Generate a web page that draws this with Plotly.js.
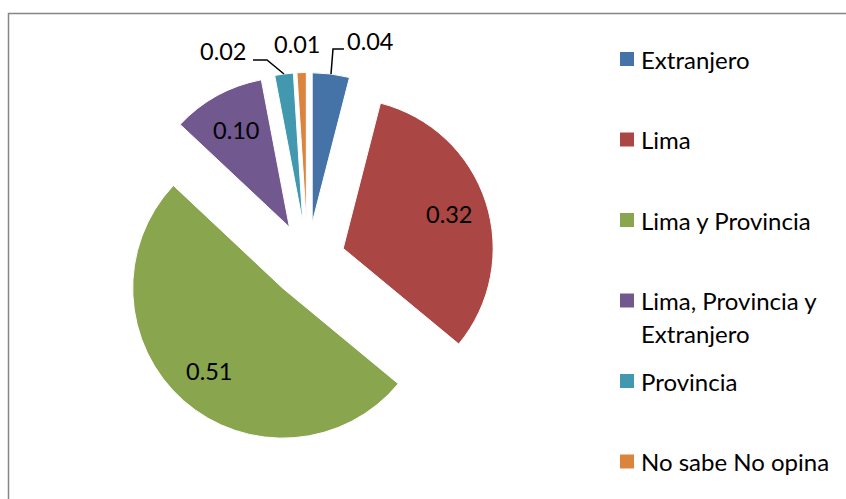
<!DOCTYPE html>
<html>
<head>
<meta charset="utf-8">
<script src="https://cdn.plot.ly/plotly-3.0.1.min.js"></script>
<style>
  html, body { margin: 0; padding: 0; background: #fff; }
  #chart { width: 846px; height: 499px; }
</style>
</head>
<body>
<div id="chart"></div>
<script>
// Ámbito de trabajo: share of answers per category
const categories = ['Extranjero', 'Lima', 'Lima y Provincia', 'Lima, Provincia y<br>Extranjero', 'Provincia', 'No sabe No opina'];
const shares = [0.04, 0.32, 0.51, 0.10, 0.02, 0.01];
const colors = ['#4572A7', '#AA4643', '#89A54E', '#71588F', '#4198AF', '#DB843D'];

const W = 846, H = 499;
const FONT = 'Lato, "Open Sans", sans-serif';
const PULL = 0.25;

// pie box in pixels
const box = { x0: 120, x1: 495, y0: 72.5, y1: 447.5 };
const dom = {
  x: [box.x0 / W, box.x1 / W],
  y: [1 - box.y1 / H, 1 - box.y0 / H]
};
const boxW = box.x1 - box.x0, boxH = box.y1 - box.y0;
const R = Math.min(boxW, boxH) / 2 / (1 + PULL);
const cx = (box.x0 + box.x1) / 2;
const cy = box.y1 - boxH / 2;

const px = v => v / W;
const py = v => 1 - v / H;

const total = shares.reduce((a, b) => a + b, 0);
const slices = [];
let acc = 0;
shares.forEach(v => {
  const mid = (acc + v / 2) / total * 2 * Math.PI;
  acc += v;
  const dx = Math.sin(mid), dy = -Math.cos(mid);
  const ax = cx + PULL * R * dx, ay = cy + PULL * R * dy;   // pulled apex
  slices.push({ v, dx, dy, ax, ay, ox: ax + R * dx, oy: ay + R * dy });
});

const annotations = [];
const shapes = [];

// value labels: large slices inside, small ones outside with leader lines
const outside = {
  0: { off: [39, -33], lead: [[2, -25], [13, -25]] },
  4: { off: [-61, -23], lead: [[-17, -14], [-31, -14]] },
  5: { off: [-5, -29], lead: null }
};
slices.forEach((s, i) => {
  const txt = s.v.toFixed(2);
  let x, y;
  if (outside[i]) {
    const o = outside[i];
    x = s.ox + o.off[0];
    y = s.oy + o.off[1];
    if (o.lead) {
      let path = `M ${px(s.ox)} ${py(s.oy)}`;
      o.lead.forEach(p => { path += ` L ${px(s.ox + p[0])} ${py(s.oy + p[1])}`; });
      shapes.push({ type: 'path', xref: 'paper', yref: 'paper', path,
        line: { color: '#000', width: 1.5 } });
    }
  } else {
    x = s.ax + 0.74 * R * s.dx;
    y = s.ay + 0.74 * R * s.dy;
  }
  annotations.push({ text: txt, x: px(x), y: py(y), xref: 'paper', yref: 'paper',
    xanchor: 'center', yanchor: 'middle', showarrow: false,
    font: { family: FONT, size: 23.5, color: '#000' } });
});

// legend
categories.forEach((c, i) => {
  const yc = 59 + 80.5 * i;
  shapes.push({ type: 'rect', xref: 'paper', yref: 'paper',
    x0: px(620), x1: px(634), y0: py(yc - 7), y1: py(yc + 7),
    fillcolor: colors[i], line: { width: 0 } });
  c.split('<br>').forEach((line, k) => {
    annotations.push({ text: line, x: px(639), y: py(yc + 33 * k), xref: 'paper', yref: 'paper',
      xanchor: 'left', yanchor: 'middle', showarrow: false,
      font: { family: FONT, size: 24, color: '#000' } });
  });
});

// chart frame
shapes.push({ type: 'rect', xref: 'paper', yref: 'paper',
  x0: px(8.5), x1: px(W + 5), y0: py(13.5), y1: py(H + 5),
  line: { color: '#868686', width: 1.5 }, layer: 'below' });

const trace = {
  type: 'pie',
  values: shares,
  labels: categories,
  sort: false,
  direction: 'clockwise',
  rotation: 0,
  pull: PULL,
  domain: dom,
  marker: { colors, line: { color: '#fff', width: 1 } },
  textinfo: 'none',
  hoverinfo: 'label+value'
};

Plotly.newPlot('chart', [trace], {
  width: W, height: H,
  margin: { l: 0, r: 0, t: 0, b: 0 },
  paper_bgcolor: '#fff',
  showlegend: false,
  annotations, shapes
}, { displayModeBar: false, staticPlot: true });
</script>
</body>
</html>
